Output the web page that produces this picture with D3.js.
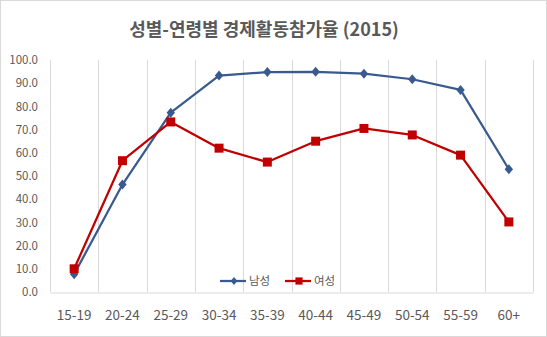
<!DOCTYPE html>
<html>
<head>
<meta charset="utf-8">
<script src="https://cdn.jsdelivr.net/npm/d3@7"></script>
<style>
  html, body { margin: 0; padding: 0; background: #fff; }
  svg { display: block; }
</style>
</head>
<body>
<svg id="chart" width="547" height="337"></svg>
<script>
// Age groups on the x axis
const ageGroups = ["15-19", "20-24", "25-29", "30-34", "35-39", "40-44", "45-49", "50-54", "55-59", "60+"];
// Labour force participation rate (%) by sex, 2015
const maleRates   = [7.7, 46.3, 77.3, 93.3, 94.8, 94.9, 94.1, 91.7, 87.1, 52.9];
const femaleRates = [10.0, 56.6, 73.3, 62.0, 56.0, 65.0, 70.5, 67.7, 59.0, 30.2];
const yTicks = [0, 10, 20, 30, 40, 50, 60, 70, 80, 90, 100];
const seriesNames = ["남성", "여성"];

const W = 547, H = 337;
const plot = { left: 50, right: 533, top: 60, bottom: 292 };
const maleColor = "#3A5A8F";
const femaleColor = "#C00000";
const textColor = "#595959";
const gridColor = "#D9D9D9";
const font = "'Noto Sans CJK KR', 'Noto Sans', sans-serif";

const svg = d3.select("#chart");

// chart frame
svg.append("rect")
  .attr("x", 0.5).attr("y", 0.5)
  .attr("width", W - 1).attr("height", H - 1)
  .attr("fill", "#fff").attr("stroke", "#D9D9D9");

// title
svg.append("text")
  .attr("x", 264).attr("y", 36)
  .attr("text-anchor", "middle")
  .attr("font-family", font)
  .attr("font-size", 18)
  .attr("font-weight", "bold")
  .attr("fill", textColor)
  .text("성별-연령별 경제활동참가율 (2015)");

const x = d3.scaleBand().domain(ageGroups).range([plot.left, plot.right]);
const y = d3.scaleLinear().domain([0, 100]).range([plot.bottom, plot.top]);

// vertical category gridlines
const bounds = ageGroups.map(d => x(d)).concat([plot.right]);
svg.append("g").selectAll("line").data(bounds).join("line")
  .attr("x1", d => Math.round(d) + 0.5).attr("x2", d => Math.round(d) + 0.5)
  .attr("y1", plot.top).attr("y2", plot.bottom)
  .attr("stroke", gridColor).attr("stroke-width", 1);

// x axis
const xAxis = svg.append("g")
  .attr("transform", `translate(0,${plot.bottom + 0.5})`)
  .call(d3.axisBottom(x).tickSize(0).tickPadding(18));
xAxis.select(".domain").attr("stroke", gridColor);
xAxis.selectAll("text")
  .attr("font-family", font).attr("font-size", 13.5).attr("fill", textColor);

// y axis (labels only)
const yAxis = svg.append("g")
  .attr("transform", `translate(${plot.left},0)`)
  .call(d3.axisLeft(y).tickValues(yTicks).tickFormat(d3.format(".1f")).tickSize(0).tickPadding(12));
yAxis.select(".domain").remove();
yAxis.selectAll("text")
  .attr("font-family", font).attr("font-size", 11.5).attr("fill", textColor);

const line = d3.line()
  .x((d, i) => x(ageGroups[i]) + x.bandwidth() / 2)
  .y(d => y(d));

function drawSeries(values, color, marker) {
  svg.append("path")
    .datum(values)
    .attr("d", line)
    .attr("fill", "none")
    .attr("stroke", color)
    .attr("stroke-width", 2.25)
    .attr("stroke-linejoin", "round");
  svg.append("g").selectAll("path").data(values).join("path")
    .attr("transform", (d, i) => `translate(${x(ageGroups[i]) + x.bandwidth() / 2},${y(d)})`)
    .attr("d", marker)
    .attr("fill", color);
}

const diamond = "M0,-5L4.2,0L0,5L-4.2,0Z";
const square = "M-4.5,-4.5H4.5V4.5H-4.5Z";

drawSeries(maleRates, maleColor, diamond);
drawSeries(femaleRates, femaleColor, square);

// legend
const legend = svg.append("g").attr("font-family", font).attr("font-size", 11.5).attr("fill", textColor);
const legendItems = [
  { name: seriesNames[0], color: maleColor, marker: diamond, x0: 220 },
  { name: seriesNames[1], color: femaleColor, marker: square, x0: 285 }
];
legendItems.forEach(it => {
  const ly = 281;
  legend.append("line")
    .attr("x1", it.x0).attr("x2", it.x0 + 26)
    .attr("y1", ly).attr("y2", ly)
    .attr("stroke", it.color).attr("stroke-width", 2.25);
  legend.append("path")
    .attr("transform", `translate(${it.x0 + 14},${ly}) scale(0.8)`)
    .attr("d", it.marker).attr("fill", it.color);
  legend.append("text")
    .attr("x", it.x0 + 29).attr("y", ly + 4)
    .text(it.name);
});
</script>
</body>
</html>
